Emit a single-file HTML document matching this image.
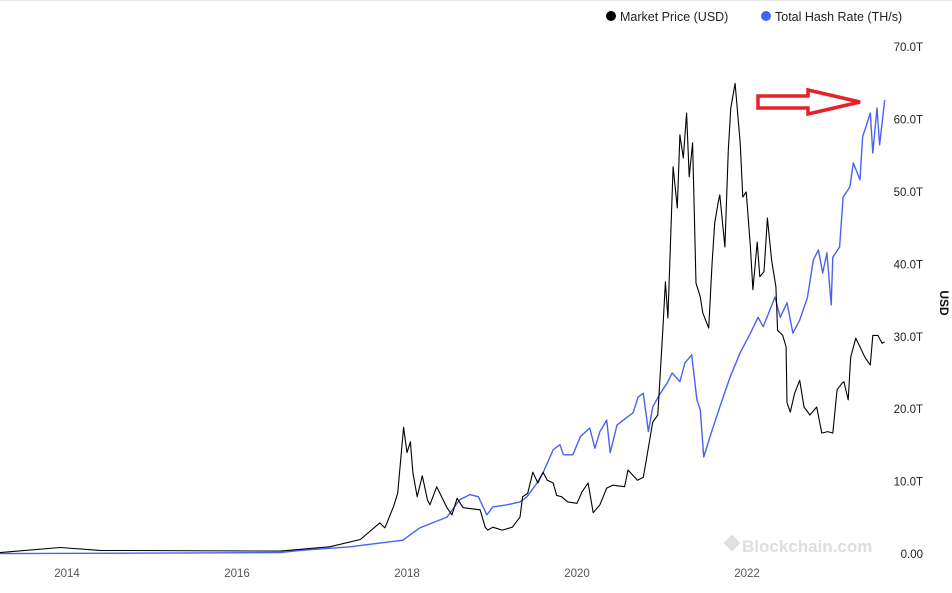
<!DOCTYPE html>
<html><head><meta charset="utf-8"><style>
body{margin:0;background:#fff;font-family:"Liberation Sans",sans-serif;}
svg text{font-family:"Liberation Sans",sans-serif;}
</style></head><body>
<svg id="chart" width="952" height="588" xmlns="http://www.w3.org/2000/svg">
<line x1="0" y1="0.5" x2="952" y2="0.5" stroke="#e6e6e6"/>
<g>
<g><circle cx="611" cy="16" r="5" fill="#000"/><text x="620" y="21" font-size="12.5" fill="#222">Market Price (USD)</text></g>
<g><circle cx="766" cy="16" r="5" fill="#4a62f0"/><text x="775" y="21" font-size="12.5" fill="#222">Total Hash Rate (TH/s)</text></g>
</g>
<g id="yticks"></g>
<g id="xticks"></g>
<text x="940" y="303" font-size="12" font-weight="bold" fill="#111" transform="rotate(90 940 303)" text-anchor="middle">USD</text>
<text x="742" y="552" font-size="17" font-weight="bold" fill="#dedede">Blockchain.com</text>
<rect x="726" y="537" width="12" height="12" fill="#e0e0e0" transform="rotate(45 732 543)"/>
<path id="hash" fill="none" stroke="#4a62f0" stroke-width="1.4" stroke-linejoin="round"/>
<path id="price" fill="none" stroke="#000" stroke-width="1.1" stroke-linejoin="round"/>
<polygon points="758,96 808,96 808,90 860,102 808,114 808,108 758,108" fill="none" stroke="#e8202a" stroke-width="3.5"/>
</svg>
<script>
const yTickValues=[0,10,20,30,40,50,60,70];
const yTickLabels=["0.00","10.0T","20.0T","30.0T","40.0T","50.0T","60.0T","70.0T"];
const xTickYears=[2014,2016,2018,2020,2022];
const priceDates=[2013.21,2013.92,2014.39,2016.51,2017.09,2017.45,2017.68,2017.74,2017.84,2017.89,2017.96,2018.00,2018.04,2018.07,2018.12,2018.18,2018.24,2018.27,2018.35,2018.47,2018.53,2018.59,2018.66,2018.86,2018.92,2018.95,2019.01,2019.12,2019.24,2019.33,2019.36,2019.42,2019.48,2019.54,2019.60,2019.65,2019.72,2019.76,2019.82,2019.89,2020.00,2020.06,2020.13,2020.19,2020.27,2020.35,2020.42,2020.56,2020.60,2020.71,2020.78,2020.82,2020.89,2020.95,2021.01,2021.04,2021.07,2021.13,2021.18,2021.21,2021.25,2021.29,2021.32,2021.36,2021.40,2021.45,2021.48,2021.55,2021.59,2021.62,2021.66,2021.68,2021.74,2021.78,2021.81,2021.86,2021.92,2021.95,2021.99,2022.01,2022.04,2022.07,2022.12,2022.15,2022.20,2022.24,2022.29,2022.34,2022.36,2022.42,2022.46,2022.47,2022.51,2022.56,2022.62,2022.67,2022.74,2022.82,2022.88,2022.95,2023.01,2023.06,2023.12,2023.14,2023.19,2023.22,2023.28,2023.33,2023.39,2023.45,2023.48,2023.54,2023.59,2023.62];
const priceValues=[0.2,0.9,0.5,0.4,1.0,2.0,4.3,3.6,6.5,8.4,17.5,14,15.5,11.2,7.9,10.8,7.5,6.8,9.3,6.4,5.4,7.7,6.4,6.1,3.7,3.3,3.7,3.3,3.7,5.1,7.9,8.4,11.3,9.8,11.3,10.2,9.8,8.1,7.9,7.2,7.0,8.6,9.8,5.7,6.8,9.1,9.5,9.3,11.6,10.2,10.6,13.3,18.2,19.2,30.9,37.6,32.6,53.5,47.8,57.9,54.7,60.9,52.1,56.8,37.4,35.5,33.3,31.2,40.2,45.7,48.5,49.6,42.4,55.8,61.6,65,56.8,49.3,50,47.2,42.4,36.5,43.1,38.3,39,46.4,40.6,36.9,30.9,30.2,28.6,20.9,19.6,22.2,24,20.3,19.2,20.3,16.7,16.9,16.7,22.7,23.6,23.8,21.3,27.2,29.8,28.6,27.1,26.1,30.2,30.2,29.1,29.3];
const hashDates=[2013.21,2016.51,2016.74,2017.33,2017.68,2017.95,2018.15,2018.47,2018.62,2018.74,2018.84,2018.94,2019.01,2019.18,2019.33,2019.41,2019.53,2019.60,2019.72,2019.80,2019.84,2019.95,2020.04,2020.15,2020.21,2020.27,2020.35,2020.39,2020.47,2020.59,2020.66,2020.72,2020.78,2020.84,2020.89,2020.98,2021.06,2021.12,2021.21,2021.27,2021.35,2021.41,2021.45,2021.49,2021.59,2021.68,2021.80,2021.92,2022.04,2022.13,2022.19,2022.33,2022.39,2022.47,2022.54,2022.62,2022.71,2022.78,2022.84,2022.89,2022.94,2022.99,2023.01,2023.09,2023.13,2023.21,2023.25,2023.33,2023.36,2023.45,2023.48,2023.53,2023.56,2023.62];
const hashValues=[0.05,0.2,0.5,1,1.5,1.9,3.6,5.1,7.5,8.2,7.9,5.4,6.5,6.8,7.2,7.9,9.8,11.2,14.4,15.1,13.7,13.7,16.2,17.4,14.6,16.9,18.5,14,17.8,18.9,19.5,21.7,22.2,16.9,20.3,22.2,23.6,25,23.8,26.4,27.5,21.3,19.9,13.4,17.1,20.3,24.4,27.8,30.5,32.7,31.4,35.5,32.7,34.7,30.5,32.3,35.4,40.6,42,38.8,41.6,34.4,41,42.4,49.3,50.7,54,51.7,57.6,60.9,55.4,61.6,56.5,62.7];
const X=y=>67+(y-2014)*85;
const Y=v=>554-v*7.24;
const NS="http://www.w3.org/2000/svg";
const yg=document.getElementById('yticks');
yTickValues.forEach((v,i)=>{
 const t=document.createElementNS(NS,'text');
 t.setAttribute('x',923);t.setAttribute('y',Y(v)+4);t.setAttribute('text-anchor','end');
 t.setAttribute('font-size','11.5');t.setAttribute('fill','#222');t.textContent=yTickLabels[i];
 
 
 yg.appendChild(t);
});
const xg=document.getElementById('xticks');
xTickYears.forEach(yr=>{
 const t=document.createElementNS(NS,'text');
 t.setAttribute('x',X(yr));t.setAttribute('y',577);t.setAttribute('text-anchor','middle');
 t.setAttribute('font-size','11.5');t.setAttribute('fill','#555');t.textContent=yr;
 
 
 xg.appendChild(t);
});
const line=(d,v)=>d.map((x,i)=>(i?'L':'M')+X(x).toFixed(1)+','+Y(v[i]).toFixed(1)).join('');
document.getElementById('price').setAttribute('d',line(priceDates,priceValues));
document.getElementById('hash').setAttribute('d',line(hashDates,hashValues));
</script>
</body></html>
